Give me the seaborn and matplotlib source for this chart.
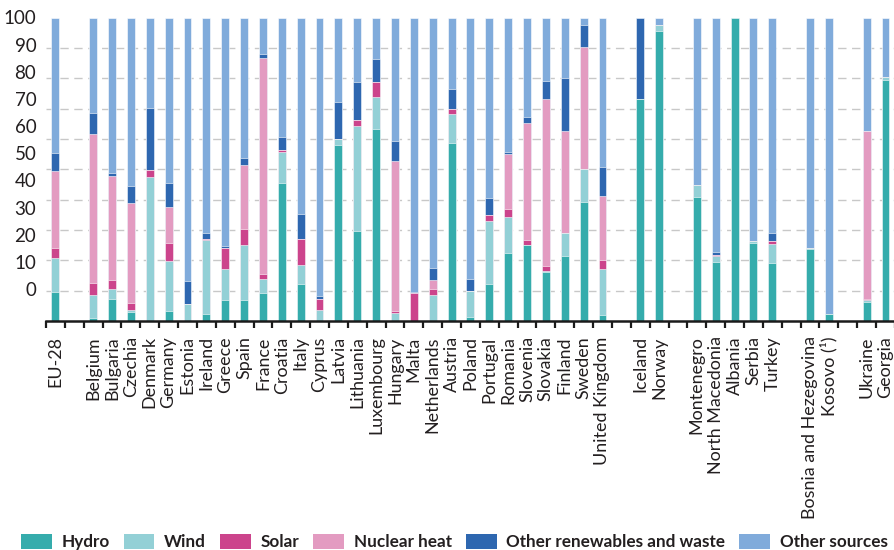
import matplotlib
matplotlib.use("Agg")
import matplotlib.pyplot as plt
from matplotlib.patches import Patch
from matplotlib.ticker import FixedLocator, NullFormatter
import numpy as np
import pandas as pd
import seaborn as sns

# Country groups, drawn left to right with an empty slot between groups
eu_total = ["EU-28"]
eu_members = ["Belgium", "Bulgaria", "Czechia", "Denmark", "Germany", "Estonia",
              "Ireland", "Greece", "Spain", "France", "Croatia", "Italy", "Cyprus",
              "Latvia", "Lithuania", "Luxembourg", "Hungary", "Malta", "Netherlands",
              "Austria", "Poland", "Portugal", "Romania", "Slovenia", "Slovakia",
              "Finland", "Sweden", "United Kingdom"]
efta = ["Iceland", "Norway"]
candidates = ["Montenegro", "North Macedonia", "Albania", "Serbia", "Turkey"]
potential_candidates = ["Bosnia and Hezegovina", "Kosovo (¹)"]
neighbours = ["Ukraine", "Georgia"]
groups = [eu_total, eu_members, efta, candidates, potential_candidates, neighbours]

# Shares of gross electricity production (%), in the order of the groups above
hydro = [9.5,
         1.1, 7.1, 3.1, 0.0, 3.4, 0.0, 2.4, 6.8, 7.0, 9.2, 45.4, 12.3, 0.0,
         58.0, 29.6, 63.3, 0.0, 0.0, 0.0, 58.8, 1.4, 12.3, 22.5, 24.9, 16.2,
         21.5, 39.3, 2.0,
         73.0, 95.7,
         40.8, 19.4, 100.0, 25.8, 19.1,
         23.8, 2.4,
         6.4, 79.5]
wind = [11.1,
        7.6, 3.4, 0.6, 47.4, 16.4, 5.5, 24.3, 10.2, 18.0, 4.5, 10.4, 6.1, 3.7,
        1.9, 34.7, 10.6, 2.6, 0.0, 8.6, 9.4, 8.6, 20.7, 11.7, 0.1, 0.2,
        7.4, 10.8, 15.0,
        0.0, 1.9,
        4.0, 1.9, 0.0, 0.4, 6.3,
        0.2, 0.0,
        0.5, 1.0]
solar = [3.4,
         3.8, 3.1, 2.3, 2.5, 5.9, 0.0, 0.2, 7.1, 5.3, 1.8, 0.7, 8.5, 3.5,
         0.0, 1.8, 5.0, 0.8, 9.1, 1.9, 1.7, 0.0, 1.8, 2.7, 1.7, 1.8,
         0.0, 0.0, 3.1,
         0.0, 0.0,
         0.0, 0.3, 0.0, 0.0, 0.9,
         0.0, 0.0,
         0.3, 0.0]
nuclear_heat = [25.4,
                49.1, 34.3, 33.0, 0.0, 11.8, 0.0, 0.0, 0.0, 21.2, 71.3, 0.0, 0.0, 0.0,
                0.0, 0.0, 0.0, 49.4, 0.0, 3.0, 0.0, 0.0, 0.0, 18.1, 38.6, 54.9,
                33.7, 40.2, 21.2,
                0.0, 0.0,
                0.0, 0.0, 0.0, 0.0, 0.0,
                0.0, 0.0,
                55.3, 0.0]
other_renewables = [5.9,
                    6.9, 0.7, 5.5, 20.4, 7.9, 7.7, 2.2, 0.6, 2.2, 1.3, 4.1, 8.4, 1.0,
                    12.3, 12.7, 7.4, 6.6, 0.4, 3.8, 6.6, 3.9, 5.7, 0.7, 1.8, 6.0,
                    17.5, 7.3, 9.4,
                    27.0, 0.0,
                    0.0, 1.0, 0.0, 0.0, 2.8,
                    0.0, 0.0,
                    0.2, 0.0]

source_names = ["Hydro", "Wind", "Solar", "Nuclear heat",
                "Other renewables and waste", "Other sources"]
source_colors = ["#35acac", "#93d0d6", "#cc448c", "#e39bc1", "#2e67b0", "#80abdb"]

# Slot positions: one empty slot between consecutive groups
countries, positions = [], []
slot = 0
for g in groups:
    for c in g:
        countries.append(c)
        positions.append(slot)
        slot += 1
    slot += 1
n_slots = slot - 1

df = pd.DataFrame({"country": countries, "pos": positions,
                   "Hydro": hydro, "Wind": wind, "Solar": solar,
                   "Nuclear heat": nuclear_heat,
                   "Other renewables and waste": other_renewables})
df["Other sources"] = 100 - df[source_names[:-1]].sum(axis=1)
cum = df[source_names].cumsum(axis=1)

sns.set_theme(style="white")
plt.rcParams["font.family"] = ["Lato", "DejaVu Sans"]
text_color = "#231f20"

fig = plt.figure(figsize=(8.94, 5.5), dpi=100)
ax = fig.add_axes([46 / 894, 1 - 321 / 550, 1 - 46 / 894 + 0.001, (321 - 17.5) / 550])

# Stacked bars: draw cumulative totals from the top layer downwards
for name, color in reversed(list(zip(source_names, source_colors))):
    sns.barplot(x=df["pos"], y=cum[name], native_scale=True, color=color,
                saturation=1, width=0.42, errorbar=None, edgecolor="white",
                linewidth=0.4, ax=ax, zorder=2)

ax.set_xlim(-0.5, n_slots - 0.5)
ax.set_ylim(0, 100)
ax.set_xlabel("")
ax.set_ylabel("")

# x axis: boundary ticks between slots, labels at bar centres
ax.xaxis.set_major_locator(FixedLocator(np.arange(-0.5, n_slots, 1.0)))
ax.xaxis.set_major_formatter(NullFormatter())
ax.xaxis.set_minor_locator(FixedLocator(positions))
ax.set_xticklabels(countries, minor=True, rotation=90, fontsize=12.9,
                   color=text_color, va="top", ha="center")
ax.tick_params(axis="x", which="major", length=5, width=1.6, color="#1a1a1a",
               direction="out", bottom=True)
ax.tick_params(axis="x", which="minor", length=0, pad=11)

# y axis: dashed gridlines every 10 units, labels along the left edge
grid_levels = np.arange(10, 101, 10)
ax.yaxis.set_minor_locator(FixedLocator(grid_levels))
ax.grid(axis="y", which="minor", color="#c8c8c8", linestyle=(0, (6, 4)),
        linewidth=1.0, zorder=0)
ax.grid(axis="y", which="major", visible=False)
ax.grid(axis="x", visible=False)
label_levels = np.arange(0, 101, 10)
label_pos = np.minimum(10.5 + label_levels * 0.895, 100.0)
ax.yaxis.set_major_locator(FixedLocator(label_pos))
ax.set_yticklabels([str(v) for v in label_levels], fontsize=13.5, color=text_color)
ax.tick_params(axis="y", which="both", length=0, pad=7)
ax.set_axisbelow(True)

for side in ["left", "right", "top"]:
    ax.spines[side].set_visible(False)
ax.spines["bottom"].set_color("#1a1a1a")
ax.spines["bottom"].set_linewidth(1.8)
ax.spines["bottom"].set_zorder(5)

handles = [Patch(facecolor=c, edgecolor="none", label=n)
           for n, c in zip(source_names, source_colors)]
leg = fig.legend(handles=handles, loc="center left", bbox_to_anchor=(21 / 894, 8 / 550),
                 ncol=6, frameon=False, handlelength=1.8,
                 handleheight=1.0, handletextpad=0.55, columnspacing=0.84,
                 borderpad=0, borderaxespad=0, prop={"weight": "bold", "size": 12.3})
for t in leg.get_texts():
    t.set_color(text_color)

fig.savefig("out.png", dpi=100)
